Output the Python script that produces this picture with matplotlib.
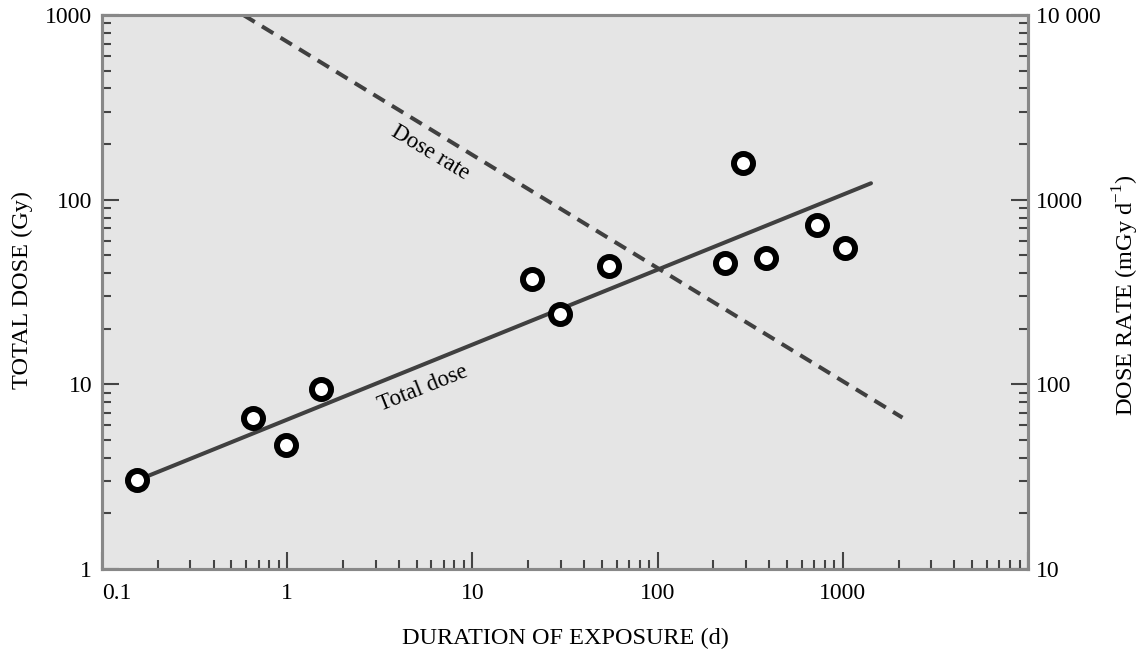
import matplotlib
matplotlib.use('Agg')
import matplotlib.pyplot as plt
from matplotlib.ticker import LogLocator, NullFormatter

plt.rcParams['font.family'] = ['Liberation Serif', 'DejaVu Serif']
plt.rcParams['mathtext.fontset'] = 'custom'
plt.rcParams['mathtext.rm'] = 'Liberation Serif'

# measured points: duration (d) and total dose (Gy)
duration = [0.155, 0.65, 0.98, 1.52, 21, 29.7, 54.8, 231, 289, 384, 723, 1028]
total_dose = [3.04, 6.6, 4.67, 9.44, 37, 23.9, 43.7, 45.6, 157.6, 48.5, 72.6, 54.5]

# fitted total dose line (Gy)
fit_x = [0.14, 1420]
fit_y = [2.9, 122.7]

# dose rate line (mGy/d), right axis
rate_x = [0.58, 2100]
rate_y = [10000, 66]

x_ticks = [0.1, 1, 10, 100, 1000, 10000]
x_labels = ['0.1', '1', '10', '100', '1000', '']
y_ticks = [1, 10, 100, 1000]
y_labels = ['1', '10', '100', '1000']
y2_ticks = [10, 100, 1000, 10000]
y2_labels = ['10', '100', '1000', '10 000']

line_col = '#404040'
spine_col = '#888888'
tick_col = '#444444'
fs = 17

fig = plt.figure(figsize=(11.42, 6.53), dpi=100)
ax = fig.add_axes([102 / 1142, 1 - 569 / 653, 926 / 1142, 554 / 653])
ax.set_facecolor('#e5e5e5')
ax.set_xscale('log')
ax.set_yscale('log')
ax.set_xlim(0.1, 10000)
ax.set_ylim(1, 1000)

ax2 = ax.twinx()
ax2.set_yscale('log')
ax2.set_ylim(10, 10000)

ax.plot(fit_x, fit_y, color=line_col, lw=2.9, solid_capstyle='round', zorder=2)
ax2.plot(rate_x, rate_y, color=line_col, lw=2.9, dashes=(3.3, 2.1), zorder=2)
ax.plot(duration, total_dose, 'o', ms=13.7, mfc='white', mec='black', mew=4.3,
        zorder=3, clip_on=False)

ax.text(5.9, 180, 'Dose rate', fontsize=16.5, rotation=-31, ha='center', va='center')
ax.text(5.4, 9.5, 'Total dose', fontsize=16.5, rotation=21.7, ha='center', va='center')

for a in (ax, ax2):
    for s in a.spines.values():
        s.set_color(spine_col)
        s.set_linewidth(2.2)

ax.set_xticks(x_ticks, x_labels)
ax.set_yticks(y_ticks, y_labels)
ax2.set_yticks(y2_ticks, y2_labels)
ax.xaxis.set_minor_locator(LogLocator(base=10, subs=range(2, 10), numticks=20))
ax.yaxis.set_minor_locator(LogLocator(base=10, subs=range(2, 10), numticks=20))
ax2.yaxis.set_minor_locator(LogLocator(base=10, subs=range(2, 10), numticks=20))
ax.xaxis.set_minor_formatter(NullFormatter())
ax.yaxis.set_minor_formatter(NullFormatter())
ax2.yaxis.set_minor_formatter(NullFormatter())

for a in (ax, ax2):
    a.tick_params(which='both', direction='in', color=tick_col, width=1.5, labelsize=fs)
    a.tick_params(which='major', length=12.5)
    a.tick_params(which='minor', length=6.5)
ax.tick_params(axis='x', pad=10)
ax.tick_params(axis='y', pad=7)
ax2.tick_params(axis='y', pad=6)
ax.set_xticklabels(x_labels)
ax.get_xticklabels()[0].set_horizontalalignment('left')

fig.text(565 / 1142, 1 - 638 / 653, 'DURATION OF EXPOSURE (d)', fontsize=17.5,
         ha='center', va='center')
fig.text(22 / 1142, 1 - 290 / 653, 'TOTAL DOSE (Gy)', fontsize=17.5, rotation=90,
         ha='center', va='center')
fig.text(1126 / 1142, 1 - 295 / 653, r'DOSE RATE (mGy d$^{\mathregular{-1}}$)', fontsize=17.5,
         rotation=90, ha='center', va='center')

fig.savefig('out.png', dpi=100)
